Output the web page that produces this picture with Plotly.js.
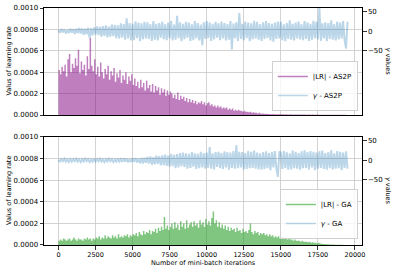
<!DOCTYPE html>
<html>
<head>
<meta charset="utf-8">
<script src="https://cdn.plot.ly/plotly-3.0.1.min.js"></script>
<style>html,body{margin:0;padding:0;background:#fff;}#chart{width:398px;height:272px;}</style>
</head>
<body>
<div id="chart"></div>
<script>
// Iterations sampled every 100 mini-batches, starting at 0
const iterStart = 0;
const iterStep = 100;
const xTicks = [0, 2500, 5000, 7500, 10000, 12500, 15000, 17500, 20000];
const lrTicks = [0, 0.0002, 0.0004, 0.0006, 0.0008, 0.001];
const gammaTicks = [-50, 0, 50];

const lrAs2p = [0.00042,0.00038,0.00045,0.00041,0.00047,0.00036,0.00052,0.00057,0.00040,0.00048,
0.00044,0.00053,0.00046,0.00061,0.00039,0.00050,0.00042,0.00047,0.00037,0.00055,
0.00043,0.00072,0.00046,0.00041,0.00052,0.00038,0.00045,0.00036,0.00049,0.00040,
0.00034,0.00043,0.00038,0.00046,0.00033,0.00041,0.00037,0.00044,0.00031,0.00039,
0.00035,0.00042,0.00030,0.00037,0.00033,0.00040,0.00029,0.00036,0.00032,0.00038,
0.00028,0.00034,0.00027,0.00031,0.00025,0.00033,0.00026,0.00030,0.00023,0.00032,
0.00025,0.00028,0.00022,0.00029,0.00021,0.00027,0.00023,0.00026,0.00019,0.00025,
0.00021,0.00024,0.00018,0.00023,0.00019,0.00022,0.00020,0.00016,0.00019,0.00015,
0.00021,0.00014,0.00018,0.00015,0.00017,0.00013,0.00016,0.00012,0.00015,0.00012,
0.00014,0.00011,0.00013,0.00010,0.00012,0.00011,0.00013,0.00010,0.00012,0.00009,
0.00011,0.00012,0.00009,0.00010,0.00008,0.00009,0.00007,0.00009,0.00007,0.00008,
0.00006,0.00007,0.00006,0.00007,0.00005,0.00006,0.00005,0.00006,0.00004,0.00005,
0.00004,0.00005,0.00004,0.00004,0.00003,0.00004,0.00003,0.00003,0.000025,0.00003,
0.00002,0.000025,0.00002,0.00002,0.000015,0.00002,0.000015,0.000012,0.000015,0.00001,
0.000012,0.00001,0.00001,0.000008,0.00001,0.000008,0.000008,0.000007,0.000008,0.000006,
0.000007,0.000006,0.000005,0.000006,0.000005,0.000005,0.000006,0.000005,0.000004,0.000005,
0.000004,0.000005,0.000004,0.000004,0.000005,0.000004,0.000004,0.000003,0.000004,0.000004,
0.000003,0.000004,0.000003,0.000003,0.000004,0.000003,0.000003,0.000003,0.000002,0.000003,
0.000003,0.000002,0.000003,0.000002,0.000002,0.000003,0.000002,0.000002,0.000002,0.000002,
0.000002,0.000002,0.000002,0.000002,0.000001,0.000002];

const gammaAs2p = [3,-4,5,-3,4,-6,3,-5,6,-4,
5,-7,6,-5,8,-6,7,-9,6,-8,
9,-18,8,-11,10,-9,12,-10,11,-14,
13,-12,15,-16,12,-14,17,-13,16,-18,
15,-19,20,-17,18,-22,33,-19,21,-24,
19,-23,25,-18,22,-26,20,-21,24,-19,
23,-20,18,-25,26,-22,19,-24,21,-17,
25,-21,18,-23,22,-19,27,-24,17,-22,
40,-18,23,-26,19,-21,24,-17,22,-25,
18,-23,26,-19,21,-24,17,-36,23,-20,
26,-18,22,-25,19,-21,24,-17,20,-23,
25,-19,21,-24,18,-22,26,-47,20,-18,
23,-25,47,-20,19,-23,25,-18,22,-26,
20,-21,27,-19,24,-22,18,-25,23,-20,
26,-18,21,-24,19,-27,22,-20,25,-19,
24,-23,18,-26,21,-20,28,-22,19,-24,
22,-19,25,-21,18,-23,26,-20,23,-25,
19,-22,27,-18,24,-21,60,-25,20,-19,
23,-26,21,-20,28,-22,18,-24,25,-21,
22,-19,26,-23,-45,24];

const lrGa = [0.00004,0.00005,0.00004,0.00006,0.00005,0.00004,0.00005,0.00006,0.00004,0.00005,
0.00007,0.00005,0.00004,0.00006,0.00005,0.00005,0.00004,0.00006,0.00005,0.00007,
0.00005,0.00006,0.00004,0.00006,0.00005,0.00007,0.00006,0.00008,0.00005,0.00007,
0.00006,0.00009,0.00006,0.00008,0.00007,0.00006,0.00009,0.00007,0.00008,0.00006,
0.00010,0.00007,0.00008,0.00007,0.00009,0.00008,0.00010,0.00007,0.00009,0.00008,
0.00010,0.00009,0.00011,0.00008,0.00012,0.00010,0.00009,0.00013,0.00010,0.00012,
0.00011,0.00014,0.00010,0.00013,0.00012,0.00015,0.00011,0.00016,0.00013,0.00017,
0.00014,0.00026,0.00015,0.00018,0.00014,0.00017,0.00020,0.00015,0.00021,0.00016,
0.00019,0.00014,0.00022,0.00017,0.00020,0.00015,0.00023,0.00016,0.00019,0.00021,
0.00017,0.00022,0.00018,0.00020,0.00016,0.00023,0.00019,0.00021,0.00017,0.00024,
0.00019,0.00022,0.00018,0.00025,0.00031,0.00020,0.00023,0.00017,0.00021,0.00016,
0.00019,0.00015,0.00018,0.00014,0.00017,0.00013,0.00016,0.00014,0.00015,0.00012,
0.00016,0.00013,0.00014,0.00011,0.00015,0.00012,0.00013,0.00011,0.00014,0.00020,
0.00012,0.00010,0.00013,0.00011,0.00012,0.00009,0.00011,0.00010,0.00011,0.00009,
0.00010,0.00008,0.00010,0.00008,0.00009,0.00007,0.00008,0.00007,0.00008,0.00006,
0.00007,0.00007,0.00006,0.00006,0.00005,0.00006,0.00005,0.00005,0.00004,0.00005,
0.00004,0.00004,0.00004,0.00003,0.00004,0.00003,0.00003,0.00003,0.000025,0.00003,
0.00002,0.000025,0.00002,0.00002,0.000015,0.00002,0.000015,0.000012,0.00001,0.00001,
0.000008,0.000007,0.000006,0.000005,0.000004,0.000004,0.000003,0.000003,0.000002,0.000002,
0.000002,0.000002,0.000001,0.000001,0.000001,0.000001];

const gammaGa = [2,-3,3,-2,4,-3,2,-4,3,-3,
3,-2,4,-3,2,-4,3,-3,4,-2,
3,-4,2,-3,4,-3,3,-2,4,-3,
2,-4,3,-3,4,-2,3,-4,2,-3,
4,-3,3,-4,5,-3,4,-5,3,-4,
5,-4,6,-5,4,-7,6,-8,7,-6,
9,-8,10,-11,8,-10,12,-9,11,-13,
13,-12,15,-14,12,-16,17,-15,14,-20,
16,-18,19,-15,20,-17,18,-21,17,-19,
21,-16,18,-22,17,-20,22,-18,19,-21,
20,-19,34,-21,18,-23,21,-17,22,-20,
19,-22,23,-18,21,-24,20,-19,24,-21,
39,-20,22,-18,21,-23,19,-22,24,-20,
22,-19,25,-21,20,-23,18,-24,21,-22,
23,-20,19,-25,22,-18,24,-21,-42,23,
20,-22,24,-19,21,-24,18,-23,25,-20,
22,-21,19,-24,23,-20,26,-19,21,-23,
24,-18,22,-25,20,-21,23,-19,25,-22,
19,-24,21,-20,26,-23,18,-21,24,-20,
22,-25,20,-19,23,-21];

const seriesNames = ['|LR| - AS2P', '<i>γ</i> - AS2P', '|LR| - GA', '<i>γ</i> - GA'];
const titles = {x: 'Number of mini-batch iterations', lr: 'Valus of learning rate', gamma: '<i>γ</i> values'};

const blue = '#1f77b4';
const purpleA = 'rgba(128,0,128,0.5)';
const greenA = 'rgba(44,160,44,0.6)';
const blueA = 'rgba(31,119,180,0.3)';
const font = 'DejaVu Sans, sans-serif';

const traces = [
  // |LR| drawn as a filled step outline (one block per 100 iterations)
  {type:'scatter', mode:'lines', x0: iterStart, dx: iterStep, y: lrAs2p, xaxis:'x', yaxis:'y',
   line:{width:0, shape:'hv', color: purpleA}, fill:'tozeroy', fillcolor: purpleA,
   showlegend:false, hoverinfo:'skip'},
  {type:'scatter', mode:'lines', x0: iterStart, dx: iterStep, y: gammaAs2p, xaxis:'x', yaxis:'y2', opacity: 0.3,
   line:{color: blue, width:2}, showlegend:false, hoverinfo:'skip'},
  {type:'scatter', mode:'lines', x0: iterStart, dx: iterStep, y: lrGa, xaxis:'x2', yaxis:'y3',
   line:{width:0, shape:'hv', color: greenA}, fill:'tozeroy', fillcolor: greenA,
   showlegend:false, hoverinfo:'skip'},
  {type:'scatter', mode:'lines', x0: iterStart, dx: iterStep, y: gammaGa, xaxis:'x2', yaxis:'y4', opacity: 0.3,
   line:{color: blue, width:2}, showlegend:false, hoverinfo:'skip'},
  // legend entries (line keys, as in the original legend)
  {type:'scatter', mode:'lines', x:[null], y:[null], xaxis:'x', yaxis:'y', name: seriesNames[0],
   line:{color: purpleA, width:1.5}, legend:'legend'},
  {type:'scatter', mode:'lines', x:[null], y:[null], xaxis:'x', yaxis:'y2', name: seriesNames[1],
   line:{color: blueA, width:1.5}, legend:'legend'},
  {type:'scatter', mode:'lines', x:[null], y:[null], xaxis:'x2', yaxis:'y3', name: seriesNames[2],
   line:{color: greenA, width:1.5}, legend:'legend2'},
  {type:'scatter', mode:'lines', x:[null], y:[null], xaxis:'x2', yaxis:'y4', name: seriesNames[3],
   line:{color: blueA, width:1.5}, legend:'legend2'}
];

const gridColor = '#c8c8c8';
const topDom = [0.5485, 1];
const botDom = [0, 0.4557];
const xRange = [-975, 20475];

function xAxis(anchor, labels){
  return {domain:[0,1], anchor: anchor, range: xRange, tickvals: xTicks,
    ticktext: xTicks.map(String), showticklabels: labels, ticks: labels ? 'outside' : '',
    ticklen: 3.5, tickwidth: 0.8, tickcolor:'#000', showgrid:true, gridcolor: gridColor, gridwidth:0.8,
    zeroline:false, showline:true, linecolor:'#000', linewidth:1, mirror:true,
    tickfont:{family: font, size:6.5, color:'#000'}};
}
function lrAxis(anchor, dom){
  return {domain: dom, anchor: anchor, range:[0, 0.001], tickvals: lrTicks, tickformat:'.4f',
    ticks:'outside', ticklen:3.5, tickwidth:0.8, tickcolor:'#000', showgrid:true, gridcolor: gridColor,
    gridwidth:0.8, zeroline:false, showline:true, linecolor:'#000', linewidth:1,
    tickfont:{family: font, size:7, color:'#000'}};
}
function gammaAxis(anchor, over){
  return {overlaying: over, side:'right', anchor: anchor, range:[-217, 60], tickvals: gammaTicks,
    ticks:'outside', ticklen:3.5, tickwidth:0.8, tickcolor:'#000', showgrid:false, zeroline:false,
    showline:true, linecolor:'#000', linewidth:1,
    tickfont:{family: font, size:7, color:'#000'}};
}
const legendBase = {xanchor:'right', yanchor:'top', bgcolor:'rgba(255,255,255,0.8)',
  bordercolor:'#d0d0d0', borderwidth:1, font:{family: font, size:7, color:'#000'}, itemwidth:30};

const layout = {
  width:398, height:272, margin:{l:44, r:36, t:8, b:27, pad:0},
  paper_bgcolor:'#fff', plot_bgcolor:'#fff',
  font:{family: font, color:'#000'},
  xaxis: xAxis('y', false),
  xaxis2: Object.assign(xAxis('y3', true), {matches:'x'}),
  yaxis: lrAxis('x', topDom),
  yaxis2: gammaAxis('x', 'y'),
  yaxis3: lrAxis('x2', botDom),
  yaxis4: gammaAxis('x2', 'y3'),
  legend: Object.assign({x:0.987, y:0.7764}, legendBase),
  legend2: Object.assign({x:0.987, y:0.2363}, legendBase),
  annotations: [
    {text: titles.lr, xref:'paper', yref:'paper', x:-0.110, y:0.774, textangle:-90, showarrow:false,
     xanchor:'center', yanchor:'middle', font:{family: font, size:6.5}},
    {text: titles.lr, xref:'paper', yref:'paper', x:-0.110, y:0.2279, textangle:-90, showarrow:false,
     xanchor:'center', yanchor:'middle', font:{family: font, size:6.5}},
    {text: titles.gamma, xref:'paper', yref:'paper', x:1.082, y:0.774, textangle:90, showarrow:false,
     xanchor:'center', yanchor:'middle', font:{family: font, size:6.5}},
    {text: titles.gamma, xref:'paper', yref:'paper', x:1.082, y:0.2279, textangle:90, showarrow:false,
     xanchor:'center', yanchor:'middle', font:{family: font, size:6.5}},
    {text: titles.x, xref:'paper', yref:'paper', x:0.5, y:-0.076, showarrow:false,
     xanchor:'center', yanchor:'middle', font:{family: font, size:6.5}}
  ]
};

Plotly.newPlot('chart', traces, layout, {staticPlot:true, displayModeBar:false});
</script>
</body>
</html>
